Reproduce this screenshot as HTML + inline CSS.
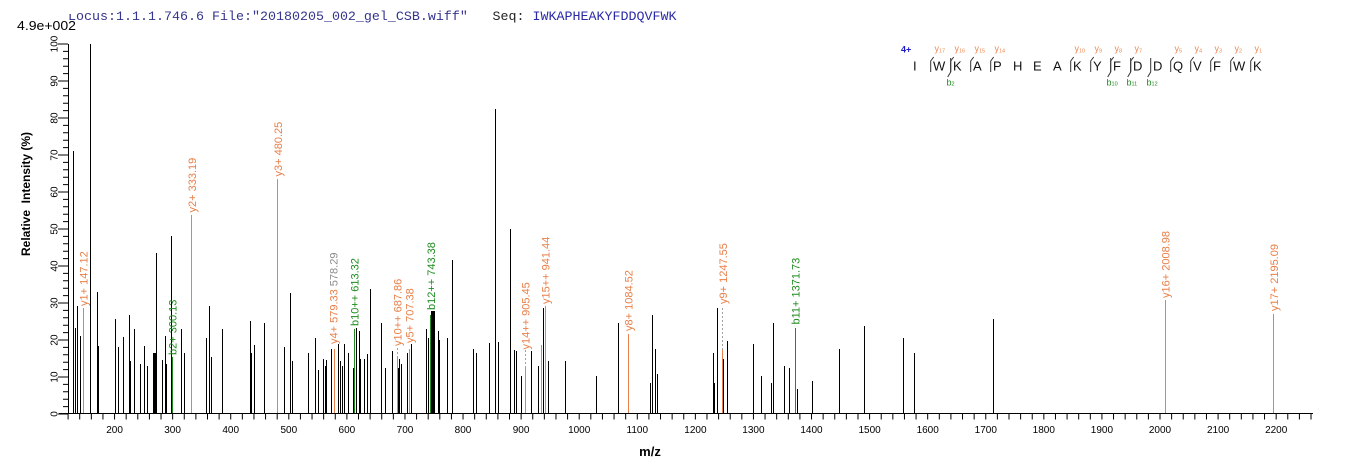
<!DOCTYPE html>
<html>
<head>
<meta charset="utf-8">
<style>
html,body{margin:0;padding:0;background:#fff;}
svg{display:block;}
text{font-family:"Liberation Sans",Arial,sans-serif;}
.mono{font-family:"Liberation Mono","Courier New",monospace;}
</style>
</head>
<body>
<svg width="1362" height="473" viewBox="0 0 1362 473" xmlns="http://www.w3.org/2000/svg">
<rect x="0" y="0" width="1362" height="473" fill="#fff"/>

<!-- header -->
<text class="mono" x="68" y="20" font-size="13.33" fill="#35358f">Locus:1.1.1.746.6 File:"20180205_002_gel_CSB.wiff"</text>
<text class="mono" x="492.5" y="20" font-size="13.33" fill="#222">Seq:</text>
<text class="mono" x="532.5" y="20" font-size="13.33" fill="#2b2ba6">IWKAPHEAKYFDDQVFWK</text>
<rect x="66" y="4" width="10" height="10" fill="#fff"/>
<text x="17" y="30" font-size="13" textLength="59" lengthAdjust="spacingAndGlyphs" fill="#000">4.9e+002</text>

<!-- axes -->
<line x1="68.5" y1="44" x2="68.5" y2="414" stroke="#000" stroke-width="1"/>
<line x1="59" y1="413.5" x2="1313" y2="413.5" stroke="#000" stroke-width="1"/>
<!-- y ticks -->
<line x1="65.5" y1="414.5" x2="65.5" y2="43" stroke="#000" stroke-width="5" stroke-dasharray="1 6.4"/>
<line x1="63" y1="414.5" x2="63" y2="43" stroke="#000" stroke-width="10" stroke-dasharray="1 36"/>
<!-- x ticks -->
<line x1="67.6" y1="416.5" x2="1313" y2="416.5" stroke="#000" stroke-width="6" stroke-dasharray="1 10.616"/>

<!-- y tick labels -->
<g font-size="10" fill="#000" text-anchor="middle">
<text transform="translate(57.5,414) rotate(-90)">0</text>
<text transform="translate(57.5,377) rotate(-90)">10</text>
<text transform="translate(57.5,340) rotate(-90)">20</text>
<text transform="translate(57.5,303) rotate(-90)">30</text>
<text transform="translate(57.5,266) rotate(-90)">40</text>
<text transform="translate(57.5,229) rotate(-90)">50</text>
<text transform="translate(57.5,192) rotate(-90)">60</text>
<text transform="translate(57.5,155) rotate(-90)">70</text>
<text transform="translate(57.5,118) rotate(-90)">80</text>
<text transform="translate(57.5,81) rotate(-90)">90</text>
<text transform="translate(57.5,44) rotate(-90)">100</text>
</g>

<!-- x tick labels -->
<g font-size="10" fill="#000" text-anchor="middle">
<text x="114.6" y="433">200</text>
<text x="172.6" y="433">300</text>
<text x="230.7" y="433">400</text>
<text x="288.8" y="433">500</text>
<text x="346.9" y="433">600</text>
<text x="405.0" y="433">700</text>
<text x="463.0" y="433">800</text>
<text x="521.1" y="433">900</text>
<text x="579.2" y="433">1000</text>
<text x="637.3" y="433">1100</text>
<text x="695.4" y="433">1200</text>
<text x="753.4" y="433">1300</text>
<text x="811.5" y="433">1400</text>
<text x="869.6" y="433">1500</text>
<text x="927.7" y="433">1600</text>
<text x="985.8" y="433">1700</text>
<text x="1043.8" y="433">1800</text>
<text x="1101.9" y="433">1900</text>
<text x="1160.0" y="433">2000</text>
<text x="1218.1" y="433">2100</text>
<text x="1276.2" y="433">2200</text>
</g>

<!-- axis titles -->
<text x="650" y="456" font-size="13" font-weight="bold" text-anchor="middle" fill="#000">m/z</text>
<text transform="translate(30,194) rotate(-90)" font-size="12" font-weight="bold" text-anchor="middle" fill="#000" xml:space="preserve">Relative  Intensity (%)</text>

<!-- black peaks -->
<path fill="none" stroke="#000" stroke-width="1" d="M73.5 413V151 M75.5 413V328 M77.5 413V306 M80.5 413V336 M90.5 413V44 M97.5 413V292 M98.5 413V346 M115.5 413V319 M118.5 413V347 M123.5 413V337 M129.5 413V315 M130.5 413V361 M134.5 413V329 M140.5 413V364 M144.5 413V346 M147.5 413V366 M153.5 413V353 M154.5 413V353 M155.5 413V353 M156.5 413V253 M162.5 413V360 M165.5 413V336 M166.5 413V364 M171.5 413V236 M181.5 413V329 M184.5 413V353 M206.5 413V338 M209.5 413V306 M211.5 413V357 M222.5 413V329 M250.5 413V321 M251.5 413V353 M254.5 413V345 M264.5 413V323 M284.5 413V347 M290.5 413V293 M292.5 413V361 M308.5 413V353 M315.5 413V338 M318.5 413V370 M323.5 413V359 M325.5 413V366 M326.5 413V360 M331.5 413V349 M338.5 413V344 M340.5 413V361 M342.5 413V366 M344.5 413V344 M348.5 413V353 M353.5 413V368 M356.5 413V328 M359.5 413V331 M360.5 413V359 M364.5 413V359 M367.5 413V354 M370.5 413V289 M381.5 413V323 M385.5 413V368 M392.5 413V351 M398.5 413V368 M399.5 413V359 M401.5 413V364 M407.5 413V353 M411.5 413V344 M426.5 413V329 M428.5 413V338 M431.5 413V311 M432.5 413V311 M433.5 413V311 M434.5 413V311 M438.5 413V331 M439.5 413V340 M447.5 413V338 M452.5 413V260 M473.5 413V349 M476.5 413V353 M489.5 413V343 M495.5 413V109 M498.5 413V342 M510.5 413V229 M514.5 413V350 M516.5 413V351 M521.5 413V376 M531.5 413V351 M538.5 413V366 M543.5 413V308 M548.5 413V361 M565.5 413V361 M596.5 413V376 M618.5 413V323 M650.5 413V383 M652.5 413V315 M655.5 413V349 M657.5 413V374 M713.5 413V353 M714.5 413V383 M717.5 413V308 M723.5 413V359 M727.5 413V341 M753.5 413V344 M761.5 413V376 M771.5 413V383 M773.5 413V323 M784.5 413V366 M789.5 413V368 M797.5 413V389 M812.5 413V381 M839.5 413V349 M864.5 413V326 M903.5 413V338 M914.5 413V353 M993.5 413V319"/>

<!-- orange (y) peaks -->
<path fill="none" stroke="#e8804a" stroke-width="1" d="M83.5 413V308 M191.5 413V215 M277.5 413V179 M334.5 413V349 M397.5 413V358 M409.5 413V349 M525.5 413V368 M541.5 413V345 M545.5 413V306 M628.5 413V334 M722.5 413V350 M1165.5 413V300 M1273.5 413V314"/>

<!-- green (b) peaks -->
<path fill="none" stroke="#1e8c1e" stroke-width="1" d="M172.5 413V357 M354.5 413V329 M430.5 413V315 M795.5 413V328"/>

<!-- grey dashed connectors -->
<path fill="none" stroke="#a0a0a0" stroke-width="1" stroke-dasharray="2 2" d="M397.5 358V347 M525.5 368V350 M722.5 350V306"/>

<!-- peak labels -->
<g font-size="11">
<text transform="translate(87.5,306) rotate(-90)" fill="#e8804a">y1+ 147.12</text>
<text transform="translate(176.5,355) rotate(-90)" fill="#1e8c1e">b2+ 300.13</text>
<text transform="translate(196,212.5) rotate(-90)" fill="#e8804a">y2+ 333.19</text>
<text transform="translate(282,176.5) rotate(-90)" fill="#e8804a">y3+ 480.25</text>
<text transform="translate(337.5,344) rotate(-90)" fill="#e8804a" xml:space="preserve">y4+ 579.33 <tspan fill="#8c8c8c">578.29</tspan></text>
<text transform="translate(358.5,326) rotate(-90)" fill="#1e8c1e">b10++ 613.32</text>
<text transform="translate(401.5,346) rotate(-90)" fill="#e8804a">y10++ 687.86</text>
<text transform="translate(413.5,343) rotate(-90)" fill="#e8804a">y5+ 707.38</text>
<text transform="translate(435,310) rotate(-90)" fill="#1e8c1e">b12++ 743.38</text>
<text transform="translate(529.5,349.5) rotate(-90)" fill="#e8804a">y14++ 905.45</text>
<text transform="translate(549.5,304) rotate(-90)" fill="#e8804a">y15++ 941.44</text>
<text transform="translate(632.3,331) rotate(-90)" fill="#e8804a">y8+ 1084.52</text>
<text transform="translate(727,304) rotate(-90)" fill="#e8804a">y9+ 1247.55</text>
<text transform="translate(799.5,324.5) rotate(-90)" fill="#1e8c1e">b11+ 1371.73</text>
<text transform="translate(1169.5,298) rotate(-90)" fill="#e8804a">y16+ 2008.98</text>
<text transform="translate(1278,311) rotate(-90)" fill="#e8804a">y17+ 2195.09</text>
</g>

<!-- sequence annotation -->
<text x="901" y="52.5" font-size="9" font-weight="bold" fill="#1a1acc">4+</text>
<g font-size="13" fill="#111">
<text x="913" y="70.7">I</text>
<text x="933" y="70.7">W</text>
<text x="953" y="70.7">K</text>
<text x="973" y="70.7">A</text>
<text x="993" y="70.7">P</text>
<text x="1013" y="70.7">H</text>
<text x="1033" y="70.7">E</text>
<text x="1053" y="70.7">A</text>
<text x="1073" y="70.7">K</text>
<text x="1093" y="70.7">Y</text>
<text x="1113" y="70.7">F</text>
<text x="1133" y="70.7">D</text>
<text x="1153" y="70.7">D</text>
<text x="1173" y="70.7">Q</text>
<text x="1193" y="70.7">V</text>
<text x="1213" y="70.7">F</text>
<text x="1233" y="70.7">W</text>
<text x="1253" y="70.7">K</text>
</g>
<!-- y brackets -->
<path fill="none" stroke="#333" stroke-width="1" d="
M930.7 72V61 L933.7 57
M950.7 72V61 L953.7 57
M970.7 72V61 L973.7 57
M990.7 72V61 L993.7 57
M1070.7 72V61 L1073.7 57
M1090.7 72V61 L1093.7 57
M1110.7 72V61 L1113.7 57
M1130.7 72V61 L1133.7 57
M1170.7 72V61 L1173.7 57
M1190.7 72V61 L1193.7 57
M1210.7 72V61 L1213.7 57
M1230.7 72V61 L1233.7 57
M1250.7 72V61 L1253.7 57"/>
<!-- b brackets -->
<path fill="none" stroke="#333" stroke-width="1" d="
M950.7 58V72 L947.7 77
M1110.7 58V72 L1107.7 77
M1130.7 58V72 L1127.7 77
M1150.7 58V72 L1147.7 77"/>
<g font-size="9" fill="#ee8a55">
<text x="934.5" y="51.5">y<tspan font-size="5.5" dy="1">17</tspan></text>
<text x="954.5" y="51.5">y<tspan font-size="5.5" dy="1">16</tspan></text>
<text x="974.5" y="51.5">y<tspan font-size="5.5" dy="1">15</tspan></text>
<text x="994.5" y="51.5">y<tspan font-size="5.5" dy="1">14</tspan></text>
<text x="1074.5" y="51.5">y<tspan font-size="5.5" dy="1">10</tspan></text>
<text x="1094.5" y="51.5">y<tspan font-size="5.5" dy="1">9</tspan></text>
<text x="1114.5" y="51.5">y<tspan font-size="5.5" dy="1">8</tspan></text>
<text x="1134.5" y="51.5">y<tspan font-size="5.5" dy="1">7</tspan></text>
<text x="1174.5" y="51.5">y<tspan font-size="5.5" dy="1">5</tspan></text>
<text x="1194.5" y="51.5">y<tspan font-size="5.5" dy="1">4</tspan></text>
<text x="1214.5" y="51.5">y<tspan font-size="5.5" dy="1">3</tspan></text>
<text x="1234.5" y="51.5">y<tspan font-size="5.5" dy="1">2</tspan></text>
<text x="1254.5" y="51.5">y<tspan font-size="5.5" dy="1">1</tspan></text>
</g>
<g font-size="9" fill="#1e8c1e">
<text x="946.5" y="85.5">b<tspan font-size="5.5" dy="0">2</tspan></text>
<text x="1106.5" y="85.5">b<tspan font-size="5.5" dy="0">10</tspan></text>
<text x="1126.5" y="85.5">b<tspan font-size="5.5" dy="0">11</tspan></text>
<text x="1146.5" y="85.5">b<tspan font-size="5.5" dy="0">12</tspan></text>
</g>
</svg>
</body>
</html>
